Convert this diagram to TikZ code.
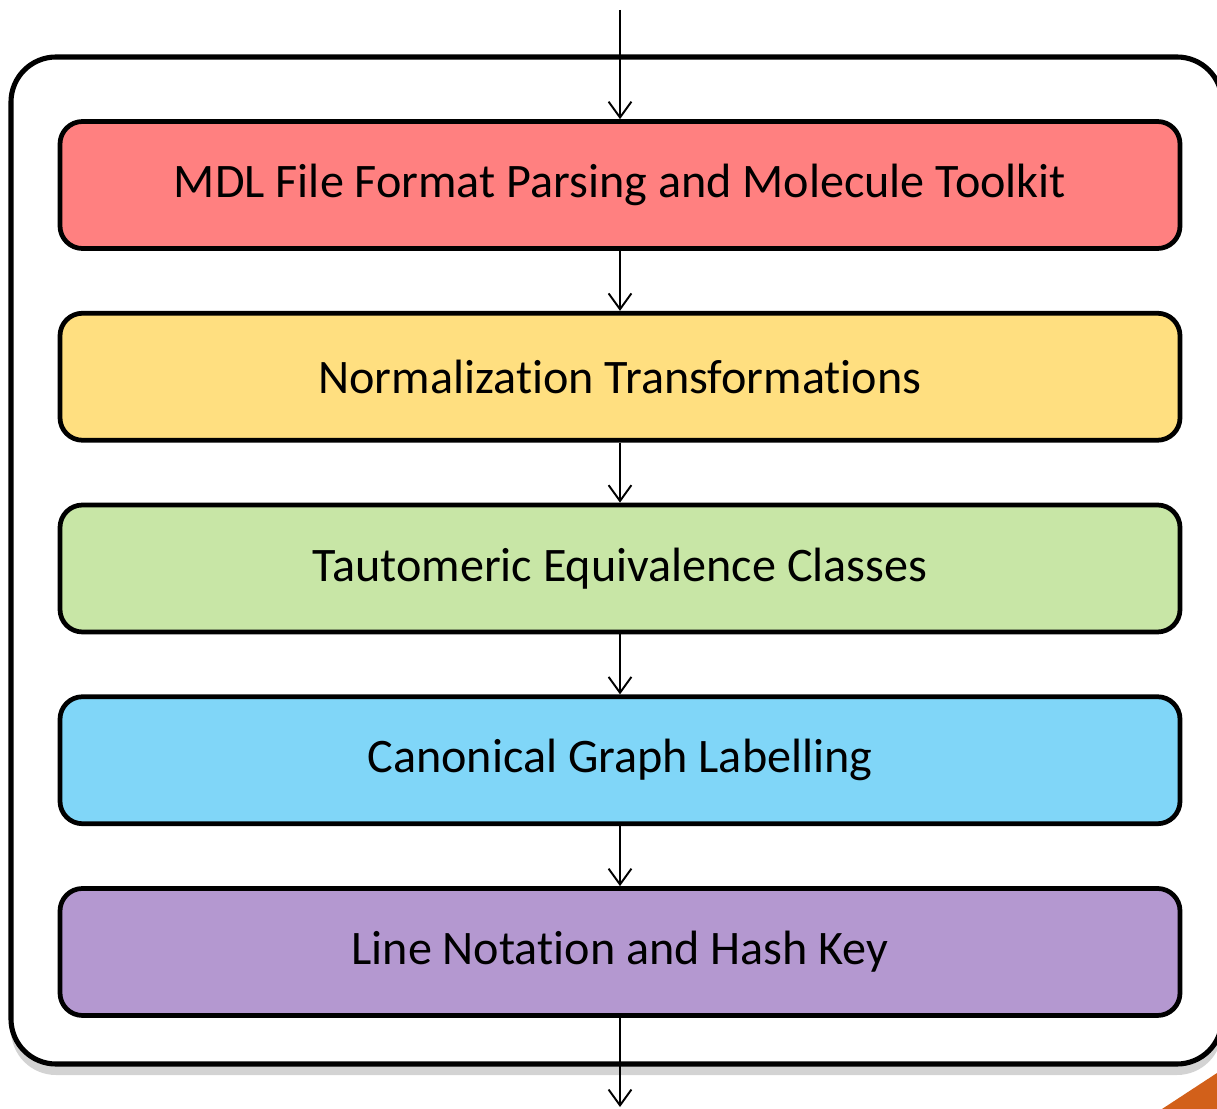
\documentclass[tikz,border=0pt]{standalone}
\usepackage{fontspec}
\setmainfont[Ligatures=NoCommon]{Carlito}
\usepackage{color}
\definecolor{myred}{RGB}{255,128,128}
\definecolor{myyellow}{RGB}{255,223,128}
\definecolor{mygreen}{RGB}{200,230,166}
\definecolor{myblue}{RGB}{128,214,248}
\definecolor{mypurple}{RGB}{180,152,208}
\definecolor{myorange}{RGB}{210,96,26}
\usepackage{tikz}
\usetikzlibrary{arrows.meta,positioning,shadows}
\tikzstyle{stage}=[draw,line width=2.7pt,rounded corners=0.45cm,minimum width=22.4cm,minimum height=2.54cm,inner sep=0pt,font=\fontsize{27.4}{32}\selectfont]
\tikzstyle{flow}=[line width=1.1pt,-{Straight Barb[length=9pt,width=13pt,line width=1.1pt]}]
\tikzstyle{frame}=[draw,line width=2.9pt,rounded corners=0.9cm,fill=white,drop shadow={shadow xshift=0pt,shadow yshift=-0.22cm,opacity=0.35}]

\begin{document}
\begin{tikzpicture}[node distance=1.2cm]
\useasboundingbox (0,0) rectangle (24.34,-22.18);
\draw[frame] (0.22,-1.14) rectangle (24.44,-21.28);
\fill[myorange] (23.24,-22.18) -- (24.34,-22.18) -- (24.34,-21.46) -- cycle;

\node [stage, fill=myred] (mdl) at (12.4,-3.7) {MDL File Format Parsing and Molecule Toolkit};
\node [stage, fill=myyellow, below=of mdl] (norm) {Normalization Transformations};
\node [stage, fill=mygreen, below=of norm] (taut) {Tautomeric Equivalence Classes};
\node [stage, fill=myblue, below=of taut] (canon) {Canonical Graph Labelling};
\node [stage, fill=mypurple, below=of canon] (hash) {Line Notation and Hash Key};

\coordinate (in) at (12.4,-0.2);
\coordinate (out) at (12.4,-22.14);
\draw [flow] (in) -- (mdl);
\draw [flow] (mdl) -- (norm);
\draw [flow] (norm) -- (taut);
\draw [flow] (taut) -- (canon);
\draw [flow] (canon) -- (hash);
\draw [flow] (hash) -- (out);
\end{tikzpicture}
\end{document}
